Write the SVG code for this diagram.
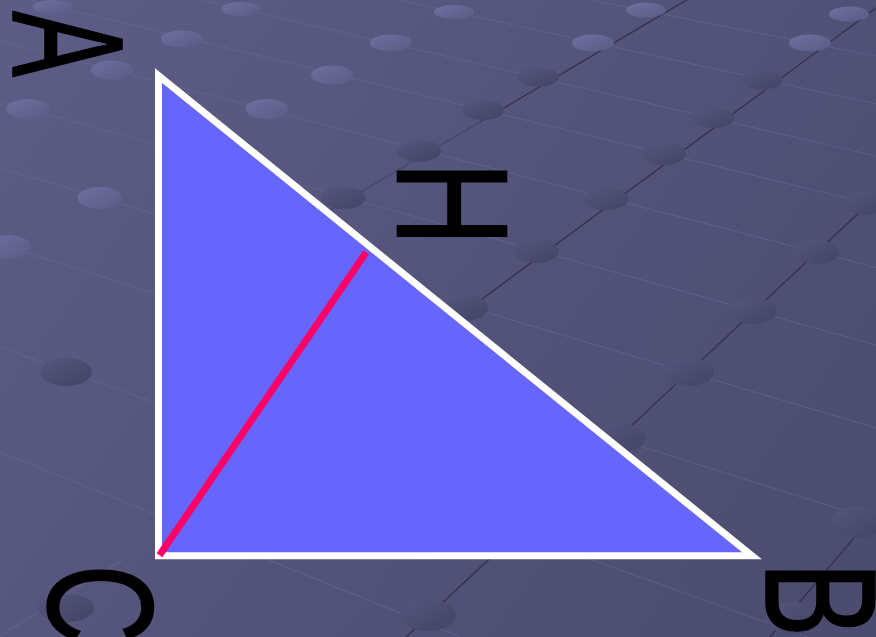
<svg xmlns="http://www.w3.org/2000/svg" width="876" height="637" viewBox="0 0 876 637">
  <defs>
    <linearGradient id="bg" x1="0" y1="0" x2="876" y2="637" gradientUnits="userSpaceOnUse">
      <stop offset="0" stop-color="#5c5c86"/>
      <stop offset="1" stop-color="#4b4b6f"/>
    </linearGradient>
    <linearGradient id="gl" x1="0" y1="0" x2="1" y2="1">
      <stop offset="0" stop-color="#7070a0"/>
      <stop offset="1" stop-color="#5a5a86"/>
    </linearGradient>
    <linearGradient id="gd" x1="0" y1="0" x2="1" y2="1">
      <stop offset="0" stop-color="#56567e"/>
      <stop offset="1" stop-color="#434366"/>
    </linearGradient>
    <style>
      .ll { stroke: #7474a6; stroke-width: 1.2; opacity: 0.35; fill: none; }
      .dk { stroke: #33334f; stroke-width: 1.4; fill: none; }
      .dl { fill: url(#gl); }
      .dd { fill: url(#gd); }
      .lbl { font-family: "Liberation Sans", Arial, sans-serif; font-size: 157px; fill: #000000; stroke: #000000; stroke-width: 1.6; }
    </style>
  </defs>

  <g id="background">
    <rect x="0" y="0" width="876" height="637" fill="url(#bg)"/>
    <g id="grid-light">
      <line class="ll" x1="0" y1="-7" x2="876" y2="205"/>
      <line class="ll" x1="0" y1="-47" x2="876" y2="156"/>
      <line class="ll" x1="0" y1="-87" x2="876" y2="104"/>
      <line class="ll" x1="590" y1="0" x2="876" y2="56"/>
      <line class="ll" x1="0" y1="41" x2="876" y2="267.5"/>
      <line class="ll" x1="0" y1="101" x2="876" y2="345"/>
      <line class="ll" x1="0" y1="168" x2="876" y2="428"/>
      <line class="ll" x1="0" y1="244.5" x2="876" y2="520.5"/>
      <line class="ll" x1="0" y1="347" x2="876" y2="662"/>
      <line class="ll" x1="0" y1="452" x2="460" y2="637"/>
      <line class="ll" x1="122" y1="560" x2="0" y2="636"/>
    </g>
    <g id="grid-dark">
      <line class="dk" x1="690" y1="-2" x2="480" y2="122"/>
      <line class="dk" x1="480" y1="122" x2="330" y2="210" opacity="0.45"/>
      <line class="dk" x1="876" y1="8" x2="420" y2="345"/>
      <line class="dk" x1="876" y1="196.7" x2="406" y2="637"/>
      <line class="dk" x1="876" y1="512" x2="770" y2="637"/>
    </g>
    <g id="dots">
      <ellipse class="dl" cx="53" cy="7" rx="20" ry="7"/>
      <ellipse class="dl" cx="241" cy="9" rx="20" ry="7"/>
      <ellipse class="dl" cx="454" cy="12" rx="20" ry="7"/>
      <ellipse class="dl" cx="646" cy="10" rx="20" ry="7.5"/>
      <ellipse class="dl" cx="849" cy="14" rx="20" ry="7.5"/>
      <ellipse class="dl" cx="182" cy="39" rx="21" ry="8.5"/>
      <ellipse class="dl" cx="391" cy="43" rx="21" ry="8.5"/>
      <ellipse class="dl" cx="593" cy="43" rx="21" ry="8.5"/>
      <ellipse class="dl" cx="810" cy="43" rx="21" ry="8.5"/>
      <ellipse class="dl" cx="112" cy="70" rx="21" ry="9.5"/>
      <ellipse class="dl" cx="332" cy="75" rx="21" ry="9.5"/>
      <ellipse class="dd" cx="538" cy="77" rx="21" ry="9.5"/>
      <ellipse class="dd" cx="762" cy="80" rx="21" ry="9.5"/>
      <ellipse class="dl" cx="28" cy="109" rx="21.5" ry="10"/>
      <ellipse class="dl" cx="267" cy="109" rx="21.5" ry="10"/>
      <ellipse class="dd" cx="483" cy="110" rx="21.5" ry="10"/>
      <ellipse class="dd" cx="713" cy="118" rx="21.5" ry="10"/>
      <ellipse class="dd" cx="419" cy="151" rx="22" ry="11"/>
      <ellipse class="dd" cx="664" cy="154" rx="22" ry="11"/>
      <ellipse class="dl" cx="100" cy="198" rx="22.5" ry="11"/>
      <ellipse class="dd" cx="343" cy="198" rx="22.5" ry="11"/>
      <ellipse class="dd" cx="606" cy="199" rx="22.5" ry="11"/>
      <ellipse class="dd" cx="866" cy="203" rx="22.5" ry="11"/>
      <ellipse class="dl" cx="8" cy="247" rx="23" ry="12"/>
      <ellipse class="dd" cx="536" cy="251" rx="23" ry="12"/>
      <ellipse class="dd" cx="816" cy="252" rx="23" ry="12"/>
      <ellipse class="dd" cx="464" cy="308" rx="24" ry="13"/>
      <ellipse class="dd" cx="753" cy="311" rx="24" ry="13"/>
      <ellipse class="dd" cx="66" cy="372" rx="26" ry="14"/>
      <ellipse class="dd" cx="688" cy="372" rx="26" ry="14"/>
      <ellipse class="dd" cx="619" cy="438" rx="26" ry="15"/>
      <ellipse class="dd" cx="858" cy="522" rx="27" ry="16"/>
      <ellipse class="dd" cx="66" cy="608" rx="28" ry="14"/>
      <ellipse class="dd" cx="428" cy="615" rx="28" ry="16"/>
      <ellipse class="dd" cx="793" cy="618" rx="28" ry="16"/>
    </g>
  </g>

  <g id="triangle-ABC">
    <polygon points="158.5,75.6 158.5,555.8 752,555.8" fill="#6666ff" stroke="#ffffff" stroke-width="7" stroke-linejoin="miter" stroke-miterlimit="10"/>
  </g>

  <g id="connectors">
    <line id="segment-CH" x1="159.5" y1="555.3" x2="366.2" y2="252.2" stroke="#ff0066" stroke-width="7" stroke-linecap="butt"/>
  </g>

  <g id="label-A">
    <text class="lbl" text-anchor="middle" transform="translate(13.3,44) rotate(90) scale(0.63,1)">A</text>
  </g>
  <g id="label-H">
    <text class="lbl" text-anchor="middle" transform="translate(397.7,203.8) rotate(90) scale(0.745,1)">H</text>
  </g>
  <g id="label-C">
    <text class="lbl" transform="translate(48.3,564.5) rotate(90) scale(0.7,0.955)">C</text>
  </g>
  <g id="label-B">
    <text class="lbl" transform="translate(766,561.7) rotate(90) scale(0.72,1)">B</text>
  </g>
</svg>
